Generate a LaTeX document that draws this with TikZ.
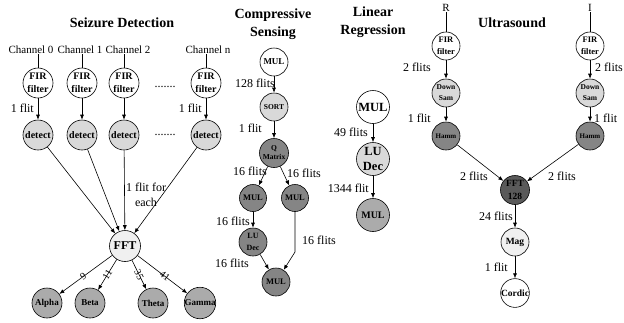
\documentclass[tikz,border=0pt]{standalone}
\usepackage{fontspec}
\setmainfont{Liberation Serif}
\usetikzlibrary{arrows.meta}

\definecolor{fwhite}{HTML}{FFFFFF}
\definecolor{fpale}{HTML}{F0F0F0}
\definecolor{flight}{HTML}{D9D9D9}
\definecolor{fmid}{HTML}{ABABAB}
\definecolor{fdark}{HTML}{858585}
\definecolor{fdarker}{HTML}{5A5A5A}

\newcommand{\fsz}[2]{\fontsize{#1}{#2}\selectfont}

\tikzset{
  cn/.style={circle,draw,line width=0.6pt,inner sep=0pt,align=center},
  arr/.style={draw,line width=0.6pt,-{Latex[length=5pt,width=4pt]}},
  plain/.style={draw,line width=0.6pt},
  title/.style={font=\fsz{14}{17.5}\bfseries,align=center,inner sep=0pt},
  lbl/.style={font=\fsz{12}{13},inner sep=0pt},
  chl/.style={font=\fsz{11}{12},inner sep=0pt},
  wt/.style={sloped,font=\fsz{10}{11},inner sep=0pt},
}

\begin{document}
\begin{tikzpicture}[x=1pt,y=-1pt]
\useasboundingbox (0,0) rectangle (624,322);

% ---------------- Seizure Detection ----------------
\node[title] (tsd) at (122,23) {Seizure Detection};

\node[chl] (c0) at (31,50) {Channel 0};
\node[chl] (c1) at (80,50) {Channel 1};
\node[chl] (c2) at (128,50) {Channel 2};
\node[chl] (cn) at (208,50) {Channel n};

\foreach \n/\x in {0/38,1/82,2/124,n/206}{
  \node[cn,fill=fwhite,minimum size=30pt,font=\fsz{10}{12.5}\bfseries] (f\n) at (\x,83) {FIR\\filter};
  \node[cn,fill=flight,minimum size=30pt,font=\fsz{10}{11}\bfseries] (d\n) at (\x,135) {detect};
}
\foreach \n in {0,1,2,n}{
  \draw[plain] (f\n.north) -- (f\n.north |- c\n.south);
  \draw[arr] (f\n) -- (d\n);
}
\node[lbl] (dots1) at (165,87) {.......};
\node[lbl] (dots2) at (165,135) {.......};
\node[lbl,anchor=east] (sl0) at (34,108) {1 flit};
\node[lbl,anchor=east] (sln) at (202,108) {1 flit};

\node[cn,fill=fpale,minimum size=31pt,font=\fsz{12}{13}\bfseries] (fft) at (125,246) {FFT};
\foreach \n in {0,1,2,n}{ \draw[arr] (d\n) -- (fft); }
\node[lbl,align=center,font=\fsz{12}{15}] (each) at (146,195) {1 flit for\\each};

\node[cn,fill=fmid,minimum size=30pt,font=\fsz{9}{10}\bfseries] (alpha) at (47,303) {Alpha};
\node[cn,fill=fmid,minimum size=30pt,font=\fsz{9}{10}\bfseries] (beta)  at (90,303) {Beta};
\node[cn,fill=fmid,minimum size=30pt,font=\fsz{9}{10}\bfseries] (theta) at (153,303) {Theta};
\node[cn,fill=fmid,minimum size=30pt,font=\fsz{9}{10}\bfseries] (gamma) at (200,303) {Gamma};
\draw[arr] (fft) -- node[pos=0.55,wt] {9} (alpha);
\draw[arr] (fft) -- node[pos=0.5,wt] {11} (beta);
\draw[arr] (fft) -- node[pos=0.5,wt] {35} (theta);
\draw[arr] (fft) -- node[pos=0.55,wt] {41} (gamma);

% ---------------- Compressive Sensing ----------------
\node[title] (tcs) at (273,24) {Compressive\\Sensing};
\node[cn,fill=fwhite,minimum size=28pt,font=\fsz{9}{10}\bfseries] (cmul) at (274,62) {MUL};
\node[cn,fill=flight,minimum size=28pt,font=\fsz{7.5}{8}\bfseries] (csort) at (274,107) {SORT};
\node[cn,fill=fdark,minimum size=29pt,font=\fsz{7.5}{9}\bfseries] (cq) at (274,153) {Q\\Matrix};
\node[cn,fill=fdark,minimum size=27pt,font=\fsz{8.5}{9}\bfseries] (cm1) at (253,198) {MUL};
\node[cn,fill=fdark,minimum size=27pt,font=\fsz{8.5}{9}\bfseries] (cm2) at (295,198) {MUL};
\node[cn,fill=fdark,minimum size=28pt,font=\fsz{8}{12}\bfseries] (clu) at (253,242) {LU\\Dec};
\node[cn,fill=fdark,minimum size=28pt,font=\fsz{8.5}{9}\bfseries] (cmb) at (276,282) {MUL};
\coordinate (cbend) at (295,252);

\draw[arr] (cmul) -- (csort);
\draw[arr] (csort) -- (cq);
\draw[arr] (cq) -- (cm1);
\draw[arr] (cq) -- (cm2);
\draw[arr] (cm1) -- (clu);
\draw[arr] (clu) -- (cmb);
\draw[arr] (cm2) -- (cbend) -- (cmb);

\node[lbl,anchor=east] at (275,83) {128 flits};
\node[lbl,anchor=east] at (262,128) {1 flit};
\node[lbl,anchor=east] at (267,171) {16 flits};
\node[lbl,anchor=west] at (287,173) {16 flits};
\node[lbl,anchor=east] at (250,221) {16 flits};
\node[lbl,anchor=east] at (249,263) {16 flits};
\node[lbl,anchor=west] at (302,240) {16 flits};

% ---------------- Linear Regression ----------------
\node[title] (tlr) at (373,22) {Linear\\Regression};
\node[cn,fill=fwhite,minimum size=33pt,font=\fsz{12.5}{13}\bfseries] (lmul) at (373,107) {MUL};
\node[cn,fill=flight,minimum size=33pt,font=\fsz{12.5}{15.5}\bfseries] (llu) at (373,159) {LU\\Dec};
\node[cn,fill=fmid,minimum size=33pt,font=\fsz{10}{11}\bfseries] (lmb) at (373,215) {MUL};
\draw[arr] (lmul) -- (llu);
\draw[arr] (llu) -- (lmb);
\node[lbl,anchor=east] at (368,132) {49 flits};
\node[lbl,anchor=east] at (369,188) {1344 flit};

% ---------------- Ultrasound ----------------
\node[title] (tus) at (512,23) {Ultrasound};
\node[chl] (ur) at (446,8) {R};
\node[chl] (ui) at (590,8) {I};
\foreach \s/\x in {L/446,R/590}{
  \node[cn,fill=fwhite,minimum size=28pt,font=\fsz{8.5}{12}\bfseries] (uf\s) at (\x,46) {FIR\\filter};
  \node[cn,fill=flight,minimum size=28pt,font=\fsz{7.5}{11}\bfseries] (ud\s) at (\x,93) {Down\\Sam};
  \node[cn,fill=fdark,minimum size=28pt,font=\fsz{7}{8}\bfseries] (uh\s) at (\x,136) {Hamm};
  \draw[arr] (uf\s) -- (ud\s);
  \draw[arr] (ud\s) -- (uh\s);
}
\draw[plain] (ufL.north) -- (ur.south);
\draw[plain] (ufR.north) -- (ui.south);
\node[cn,fill=fdarker,minimum size=29pt,font=\fsz{9.5}{13}\bfseries] (uft) at (515,190) {FFT\\128};
\node[cn,fill=fpale,minimum size=28pt,font=\fsz{9.5}{10}\bfseries] (umag) at (515,242) {Mag};
\node[cn,fill=fwhite,minimum size=28pt,font=\fsz{9.5}{10}\bfseries] (ucor) at (515,293) {Cordic};
\draw[arr] (uhL) -- (uft);
\draw[arr] (uhR) -- (uft);
\draw[arr] (uft) -- (umag);
\draw[arr] (umag) -- (ucor);

\node[lbl,anchor=east] at (431,67) {2 flits};
\node[lbl,anchor=west] at (595,67) {2 flits};
\node[lbl,anchor=east] at (431,118) {1 flit};
\node[lbl,anchor=west] at (594,118) {1 flit};
\node[lbl,anchor=east] at (488,176) {2 flits};
\node[lbl,anchor=west] at (548,176) {2 flits};
\node[lbl,anchor=east] at (513,216) {24 flits};
\node[lbl,anchor=east] at (508,267) {1 flit};
\end{tikzpicture}
\end{document}
